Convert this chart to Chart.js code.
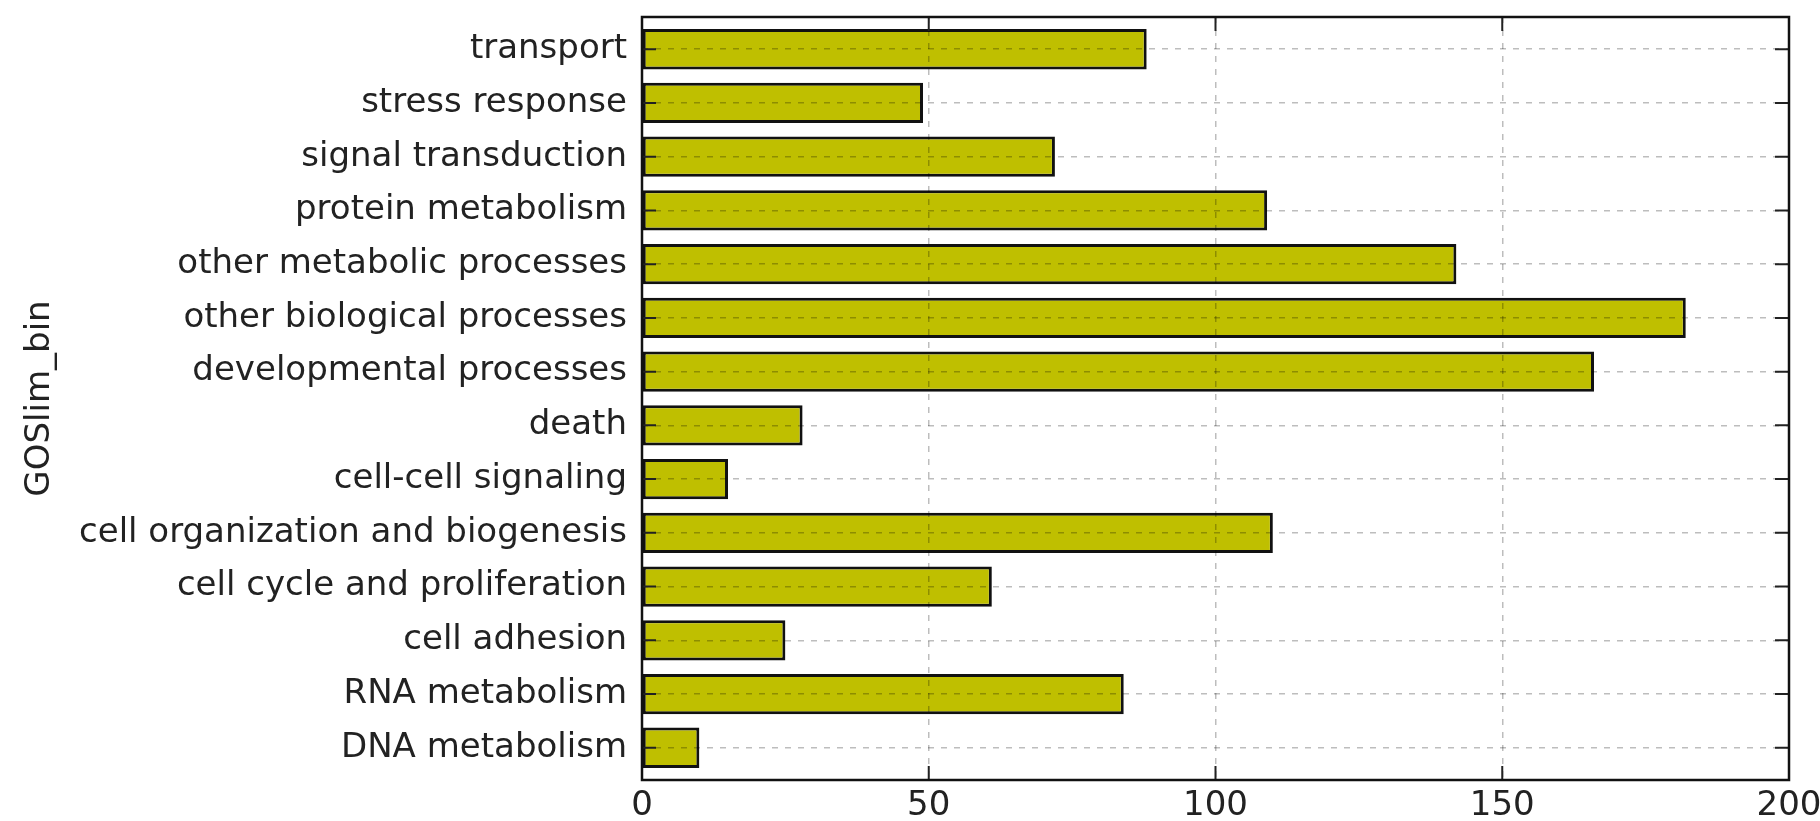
<!DOCTYPE html>
<html>
<head>
<meta charset="utf-8">
<title>GOSlim_bin</title>
<script src="https://cdn.jsdelivr.net/npm/chart.js@4.4.1/dist/chart.umd.min.js"></script>
<style>
  html, body { margin: 0; padding: 0; background: #fff; }
  #wrap { width: 1820px; height: 821px; }
</style>
</head>
<body>
<div id="wrap"><canvas id="go-chart"></canvas></div>
<script>
// GOSlim bins, listed bottom to top like the original barh
const categories = [
  'DNA metabolism', 'RNA metabolism', 'cell adhesion', 'cell cycle and proliferation',
  'cell organization and biogenesis', 'cell-cell signaling', 'death', 'developmental processes',
  'other biological processes', 'other metabolic processes', 'protein metabolism',
  'signal transduction', 'stress response', 'transport',
];
const counts = [10, 84, 25, 61, 110, 15, 28, 166, 182, 142, 109, 72, 49, 88];
const xTicks = [0, 50, 100, 150, 200];

Chart.defaults.font.family = '"DejaVu Sans", sans-serif';
Chart.defaults.font.size = 34;
Chart.defaults.color = '#222';

// matplotlib-style box + inward ticks on all four sides
const frameAndTicks = {
  id: 'frameAndTicks',
  afterDraw(chart) {
    const { ctx, chartArea: a, scales } = chart;
    ctx.save();
    ctx.strokeStyle = '#222';
    ctx.lineWidth = 2;
    ctx.beginPath();
    scales.x.ticks.forEach((t) => {
      const px = scales.x.getPixelForValue(t.value);
      ctx.moveTo(px, a.bottom); ctx.lineTo(px, a.bottom - 14);
      ctx.moveTo(px, a.top); ctx.lineTo(px, a.top + 14);
    });
    scales.y.ticks.forEach((t) => {
      const py = scales.y.getPixelForValue(t.value);
      ctx.moveTo(a.left, py); ctx.lineTo(a.left + 14, py);
      ctx.moveTo(a.right, py); ctx.lineTo(a.right - 14, py);
    });
    ctx.stroke();
    ctx.strokeStyle = '#111';
    ctx.lineWidth = 2.5;
    ctx.strokeRect(a.left, a.top, a.right - a.left, a.bottom - a.top);
    ctx.restore();
  },
};

// grid goes on top of the bars (z > 0), like matplotlib classic
const gridStyle = { color: 'rgba(0,0,0,0.26)', lineWidth: 1.5, drawTicks: false, z: 1 };
const dashStyle = { display: false, dash: [6, 7] };

new Chart(document.getElementById('go-chart'), {
  type: 'bar',
  data: {
    datasets: [{
      data: counts.map((v, i) => ({ x: v, y: i })),
      backgroundColor: '#bfbf00',
      borderColor: '#111',
      borderWidth: 3,
      borderSkipped: false,
      barPercentage: 0.75,
      categoryPercentage: 1,
    }],
  },
  options: {
    indexAxis: 'y',
    responsive: true,
    maintainAspectRatio: false,
    animation: false,
    layout: { padding: { top: 17, right: 31, left: 0, bottom: 0 } },
    plugins: {
      legend: { display: false },
      tooltip: { enabled: false },
    },
    scales: {
      x: {
        type: 'linear',
        position: 'bottom',
        min: 0,
        max: 200,
        grid: gridStyle,
        border: dashStyle,
        ticks: { padding: 6, autoSkip: false },
        afterBuildTicks: (axis) => { axis.ticks = xTicks.map((v) => ({ value: v })); },
        afterFit: (axis) => {
          axis.height = 41;
          axis.paddingLeft = 0;
          axis.paddingRight = 0;
        },
      },
      y: {
        type: 'linear',
        position: 'left',
        min: -0.6,
        max: 13.6,
        offset: false,
        grid: { ...gridStyle, offset: false },
        border: dashStyle,
        title: {
          display: true,
          text: 'GOSlim_bin',
          font: { size: 34 },
          padding: { top: 20, bottom: 0 },
        },
        ticks: {
          padding: 15,
          autoSkip: false,
          callback: (v) => categories[v] ?? '',
        },
        afterBuildTicks: (axis) => { axis.ticks = categories.map((c, i) => ({ value: i })); },
        afterFit: (axis) => {
          axis.width = 642;
          axis.paddingTop = 0;
          axis.paddingBottom = 0;
        },
      },
    },
  },
  plugins: [frameAndTicks],
});
</script>
</body>
</html>
